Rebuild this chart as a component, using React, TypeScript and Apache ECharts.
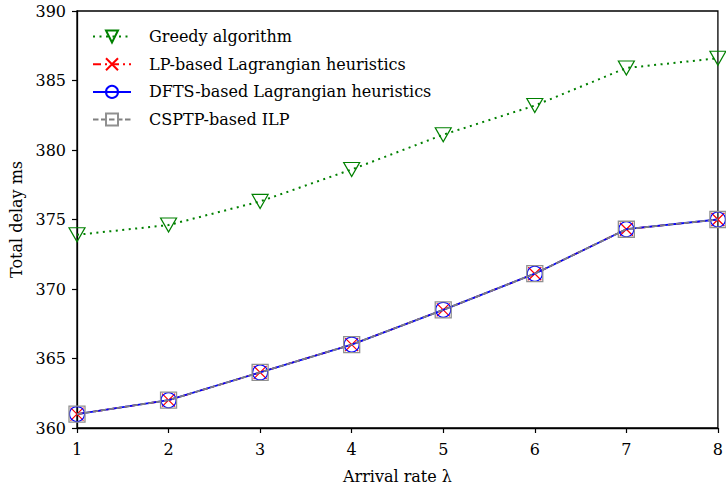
import React, { useEffect, useRef } from "react";
import * as echarts from "echarts";

const arrivalRates = [1, 2, 3, 4, 5, 6, 7, 8];
const greedy = [373.9, 374.6, 376.3, 378.6, 381.1, 383.2, 385.9, 386.6];
const lpLagrangian = [361.0, 362.0, 364.0, 366.0, 368.5, 371.1, 374.3, 375.0];
const dftsLagrangian = [361.0, 362.0, 364.0, 366.0, 368.5, 371.1, 374.3, 375.0];
const csptpIlp = [361.0, 362.0, 364.0, 366.0, 368.5, 371.1, 374.3, 375.0];
const seriesNames = [
  "Greedy algorithm",
  "LP-based Lagrangian heuristics",
  "DFTS-based Lagrangian heuristics",
  "CSPTP-based ILP",
];

const FONT = "DejaVu Serif";
const FS = 16;
const X_PATH = "path://M0,0L10,10M10,0L0,10";

export default function App() {
  const ref = useRef<HTMLDivElement>(null);
  useEffect(() => {
    if (!ref.current) return;
    const chart = echarts.init(ref.current, null, { renderer: "svg" });
    const pairs = (vals: number[]) => arrivalRates.map((x, i) => [x, vals[i]]);
    chart.setOption({
      animation: false,
      backgroundColor: "#ffffff",
      grid: {
        left: 75,
        right: 3,
        top: 11,
        bottom: 57,
        show: true,
        borderColor: "#000",
        borderWidth: 1.3,
        backgroundColor: "transparent",
      },
      xAxis: {
        type: "value",
        min: 1,
        max: 8,
        interval: 1,
        name: "Arrival rate λ",
        nameLocation: "middle",
        nameGap: 40,
        nameTextStyle: { fontFamily: FONT, fontSize: FS, color: "#000" },
        axisLine: { show: true, lineStyle: { color: "#000", width: 1.3 } },
        axisTick: { show: true, inside: false, length: 5, lineStyle: { color: "#000", width: 1.2 } },
        axisLabel: { fontFamily: FONT, fontSize: FS, color: "#000", margin: 13 },
        splitLine: { show: false },
      },
      yAxis: {
        type: "value",
        min: 360,
        max: 390,
        interval: 5,
        name: "Total delay ms",
        nameLocation: "middle",
        nameGap: 53,
        nameTextStyle: { fontFamily: FONT, fontSize: FS, color: "#000" },
        axisLine: { show: true, lineStyle: { color: "#000", width: 1.3 } },
        axisTick: { show: true, inside: false, length: 5, lineStyle: { color: "#000", width: 1.2 } },
        axisLabel: { fontFamily: FONT, fontSize: FS, color: "#000", margin: 11 },
        splitLine: { show: false },
      },
      legend: {
        orient: "vertical",
        left: 92,
        top: 28,
        padding: 0,
        itemWidth: 38,
        itemHeight: 15,
        itemGap: 10.7,
        textStyle: { fontFamily: FONT, fontSize: FS, color: "#000", padding: [0, 0, 0, 13] },
        data: seriesNames.map((n) => ({ name: n })),
      },
      series: [
        {
          name: seriesNames[0],
          type: "line",
          data: pairs(greedy),
          symbol: "triangle",
          symbolRotate: 180,
          symbolSize: [16, 14],
          lineStyle: { color: "#008000", width: 2, type: [2, 4.5] },
          itemStyle: { color: "none", borderColor: "#008000", borderWidth: 1.2 },
          z: 2,
        },
        {
          name: seriesNames[1],
          type: "line",
          data: pairs(lpLagrangian),
          symbol: X_PATH,
          symbolSize: 13,
          lineStyle: { color: "#ff0000", width: 1.6, type: [8, 4, 2, 4] },
          itemStyle: { color: "none", borderColor: "#ff0000", borderWidth: 1.2 },
          z: 3,
        },
        {
          name: seriesNames[2],
          type: "line",
          data: pairs(dftsLagrangian),
          symbol: "circle",
          symbolSize: 15,
          lineStyle: { color: "#0000ff", width: 1.8, type: "solid" },
          itemStyle: { color: "none", borderColor: "#0000ff", borderWidth: 1.2 },
          z: 4,
        },
        {
          name: seriesNames[3],
          type: "line",
          data: pairs(csptpIlp),
          symbol: "rect",
          symbolSize: 16,
          lineStyle: { color: "#808080", width: 1.8, type: [5.5, 2.5] },
          itemStyle: { color: "none", borderColor: "#909090", borderWidth: 1.3 },
          z: 5,
        },
      ],
    });
    return () => chart.dispose();
  }, []);
  return <div ref={ref} style={{ width: 726, height: 489, position: "absolute", left: 0, top: 0 }} />;
}
